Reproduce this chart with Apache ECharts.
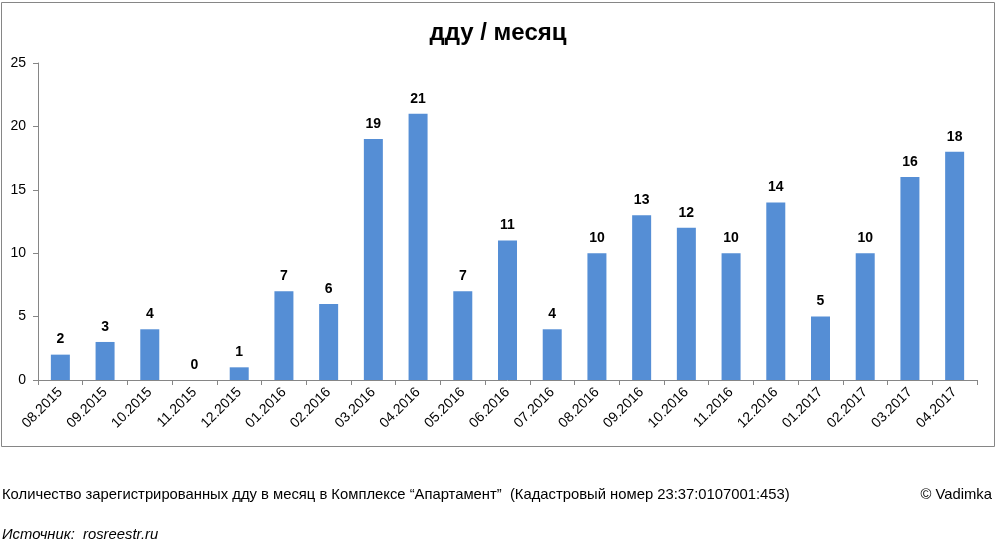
<!DOCTYPE html>
<html>
<head>
<meta charset="utf-8">
<script src="https://cdn.jsdelivr.net/npm/echarts@6/dist/echarts.min.js"></script>
<style>
  html, body { margin: 0; padding: 0; background: #fff; }
  #chart { width: 996px; height: 545px; }
</style>
</head>
<body>
<div id="chart"></div>
<script>
// месяцы и количество дду
const months = ['08.2015', '09.2015', '10.2015', '11.2015', '12.2015', '01.2016', '02.2016',
  '03.2016', '04.2016', '05.2016', '06.2016', '07.2016', '08.2016', '09.2016', '10.2016',
  '11.2016', '12.2016', '01.2017', '02.2017', '03.2017', '04.2017']
const dduCounts = [2, 3, 4, 0, 1, 7, 6, 19, 21, 7, 11, 4, 10, 13, 12, 10, 14, 5, 10, 16, 18]

const titleText = 'дду / месяц'
const noteText = 'Количество зарегистрированных дду в месяц в Комплексе “Апартамент”  (Кадастровый номер 23:37:0107001:453)'
const sourceText = 'Источник:  rosreestr.ru'
const authorText = '© Vadimka'

const font = '"Liberation Sans", sans-serif'
const chart = echarts.init(document.getElementById('chart'))

chart.setOption({
  animation: false,
  textStyle: { fontFamily: font },
  title: {
    text: titleText,
    left: 'center',
    top: 16,
    textStyle: { fontSize: 24, fontWeight: 'bold', color: '#000', fontFamily: font }
  },
  graphic: [
    {
      type: 'rect',
      shape: { x: 1.5, y: 2.5, width: 993, height: 444 },
      style: { fill: 'none', stroke: '#868686', lineWidth: 1 },
      silent: true
    },
    {
      type: 'text', left: 2, top: 487,
      style: { text: noteText, fontSize: 14.8, fill: '#000', fontFamily: font }
    },
    {
      type: 'text', right: 4, top: 487,
      style: { text: authorText, fontSize: 14.8, fill: '#000', fontFamily: font }
    },
    {
      type: 'text', left: 2, top: 527,
      style: { text: sourceText, fontSize: 14.8, fontStyle: 'italic', fill: '#000', fontFamily: font }
    }
  ],
  grid: { left: 38, right: 19, top: 63, bottom: 165, containLabel: false },
  xAxis: {
    type: 'category',
    data: months,
    axisLine: { lineStyle: { color: '#868686' } },
    axisTick: { show: true, alignWithLabel: false, length: 5, lineStyle: { color: '#868686' } },
    axisLabel: { rotate: 45, fontSize: 14, color: '#000', margin: 10, interval: 0 }
  },
  yAxis: {
    type: 'value',
    min: 0,
    max: 25,
    interval: 5,
    axisLine: { show: true, lineStyle: { color: '#868686' } },
    axisTick: { show: true, length: 5, lineStyle: { color: '#868686' } },
    splitLine: { show: false },
    axisLabel: { fontSize: 14, color: '#000', margin: 12 }
  },
  series: [{
    type: 'bar',
    data: dduCounts,
    barWidth: 19,
    itemStyle: { color: '#558ed5' },
    label: {
      show: true,
      position: 'top',
      distance: 8,
      fontSize: 14,
      fontWeight: 'bold',
      color: '#000'
    }
  }]
})
</script>
</body>
</html>
